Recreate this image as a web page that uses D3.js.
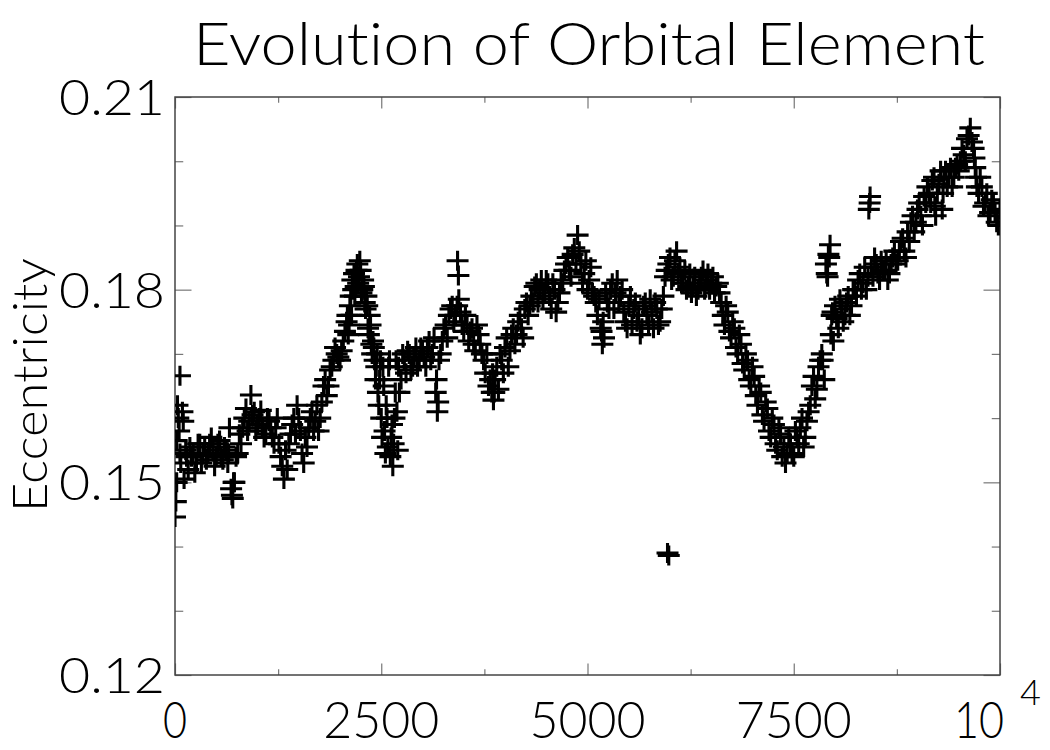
<!DOCTYPE html>
<html lang="en">
<head>
<meta charset="utf-8">
<script src="https://cdn.jsdelivr.net/npm/d3@7/dist/d3.min.js"></script>
<style>
    body { margin: 0; background: #fff; }
    text { font-family: Lato, "DejaVu Sans", sans-serif; font-weight: 300; fill: #000;
           font-variant-ligatures: none; font-feature-settings: "liga" 0; }
</style>
</head>
<body>
<svg width="1050" height="750"></svg>
<script>
// axis ticks
var xTicks = [0, 2500, 5000, 7500, 10000];
var xTickLabels = ["0", "2500", "5000", "7500", "10"];
var xMinorTicks = [1250, 3750, 6250, 8750];
var yTicks = [0.12, 0.15, 0.18, 0.21];
var yTickLabels = ["0.12", "0.15", "0.18", "0.21"];
var yMinorTicks = [0.13, 0.14, 0.16, 0.17, 0.19, 0.20];

// [time, eccentricity], first pass
var samplesA = [
    [0,0.1446],[10,0.1470],[20,0.1500],[30,0.1620],[40,0.1600],[50,0.1580],[60,0.1666],[70,0.1530],
    [90,0.1610],[110,0.1505],[130,0.1550],[160,0.1520],[200,0.1540],[240,0.1515],[280,0.1560],
    [320,0.1530],[360,0.1555],[400,0.1545],[440,0.1570],[480,0.1525],[520,0.1560],[560,0.1540],
    [600,0.1555],[640,0.1530],[660,0.1585],[680,0.1490],[700,0.1475],[720,0.1500],[760,0.1545],
    [800,0.1560],[840,0.1600],[880,0.1580],[920,0.1636],[960,0.1610],[1000,0.1590],[1040,0.1612],
    [1080,0.1570],[1120,0.1600],[1160,0.1585],[1200,0.1560],[1240,0.1600],[1280,0.1540],[1320,0.1505],
    [1360,0.1520],[1400,0.1575],[1440,0.1600],[1480,0.1620],[1520,0.1580],[1560,0.1530],[1600,0.1555],
    [1640,0.1600],[1680,0.1580],[1720,0.1620],[1760,0.1600],[1800,0.1650],[1840,0.1635],[1880,0.1675],
    [1920,0.1690],[1960,0.1700],[2000,0.1690],[2040,0.1720],[2080,0.1750],[2100,0.1730],[2120,0.1775],
    [2140,0.1760],[2160,0.1800],[2180,0.1790],[2200,0.1830],[2220,0.1810],[2240,0.1845],[2260,0.1795],
    [2280,0.1815],[2300,0.1780],[2320,0.1790],[2340,0.1740],[2360,0.1760],[2380,0.1715],[2400,0.1720],
    [2420,0.1690],[2440,0.1680],[2460,0.1640],[2480,0.1660],[2500,0.1600],[2520,0.1680],[2540,0.1580],
    [2560,0.1620],[2580,0.1555],[2600,0.1690],[2620,0.1570],[2640,0.1525],[2660,0.1600],[2680,0.1690],
    [2700,0.1550],[2720,0.1640],[2760,0.1700],[2800,0.1670],[2840,0.1700],[2880,0.1680],[2920,0.1710],
    [2960,0.1690],[3000,0.1705],[3040,0.1680],[3080,0.1720],[3120,0.1700],[3160,0.1640],[3180,0.1610],
    [3200,0.1690],[3240,0.1720],[3280,0.1745],[3320,0.1760],[3360,0.1775],[3400,0.1760],[3425,0.1845],
    [3435,0.1822],[3440,0.1785],[3480,0.1745],[3520,0.1760],[3560,0.1720],[3600,0.1740],[3640,0.1705],
    [3680,0.1730],[3720,0.1700],[3760,0.1670],[3800,0.1650],[3840,0.1640],[3860,0.1628],[3880,0.1660],
    [3920,0.1645],[3960,0.1690],[4000,0.1710],[4040,0.1680],[4080,0.1730],[4120,0.1715],[4160,0.1750],
    [4200,0.1740],[4240,0.1770],[4280,0.1760],[4320,0.1790],[4360,0.1805],[4400,0.1780],[4440,0.1815],
    [4480,0.1795],[4520,0.1810],[4560,0.1770],[4600,0.1800],[4640,0.1780],[4680,0.1815],[4720,0.1830],
    [4760,0.1850],[4800,0.1820],[4840,0.1865],[4880,0.1885],[4920,0.1840],[4960,0.1825],[5000,0.1800],
    [5040,0.1835],[5080,0.1790],[5120,0.1760],[5160,0.1740],[5180,0.1715],[5200,0.1725],[5240,0.1780],
    [5280,0.1800],[5320,0.1770],[5360,0.1815],[5400,0.1790],[5440,0.1765],[5480,0.1740],[5520,0.1790],
    [5560,0.1770],[5600,0.1750],[5640,0.1730],[5680,0.1775],[5720,0.1760],[5760,0.1785],[5800,0.1740],
    [5840,0.1770],[5880,0.1750],[5920,0.1790],[5960,0.1830],[5970,0.1390],[5985,0.1386],[6000,0.1850],
    [6040,0.1820],[6080,0.1860],[6120,0.1835],[6160,0.1810],[6200,0.1800],[6240,0.1825],[6280,0.1805],
    [6320,0.1790],[6360,0.1810],[6400,0.1830],[6440,0.1815],[6480,0.1800],[6520,0.1820],[6560,0.1805],
    [6600,0.1795],[6640,0.1760],[6680,0.1775],[6720,0.1735],[6760,0.1750],[6800,0.1710],[6840,0.1730],
    [6880,0.1685],[6920,0.1700],[6960,0.1660],[7000,0.1680],[7040,0.1635],[7080,0.1650],[7120,0.1605],
    [7160,0.1625],[7200,0.1580],[7240,0.1600],[7280,0.1560],[7320,0.1585],[7360,0.1540],[7400,0.1530],
    [7440,0.1570],[7480,0.1545],[7520,0.1580],[7560,0.1560],[7600,0.1600],[7640,0.1570],[7680,0.1610],
    [7720,0.1650],[7760,0.1630],[7800,0.1680],[7840,0.1700],[7870,0.1660],[7900,0.1825],[7920,0.1855],
    [7940,0.1870],[7960,0.1760],[7980,0.1720],[8000,0.1775],[8040,0.1740],[8080,0.1770],[8120,0.1760],
    [8160,0.1790],[8200,0.1775],[8240,0.1800],[8280,0.1815],[8320,0.1800],[8360,0.1835],[8400,0.1820],
    [8410,0.1925],[8425,0.1945],[8440,0.1835],[8480,0.1850],[8520,0.1825],[8560,0.1845],[8600,0.1830],
    [8640,0.1815],[8680,0.1840],[8720,0.1860],[8760,0.1845],[8800,0.1875],[8840,0.1860],[8880,0.1890],
    [8920,0.1905],[8960,0.1890],[9000,0.1925],[9040,0.1915],[9080,0.1945],[9120,0.1960],[9160,0.1935],
    [9200,0.1975],[9220,0.1915],[9240,0.1950],[9280,0.1985],[9300,0.1925],[9320,0.1975],[9360,0.1960],
    [9400,0.1990],[9440,0.1975],[9480,0.1995],[9520,0.2000],[9560,0.2010],[9600,0.2035],[9640,0.2052],
    [9680,0.2020],[9700,0.1990],[9720,0.1960],[9760,0.1975],[9800,0.1930],[9840,0.1950],[9880,0.1920],
    [9920,0.1935],[9960,0.1905],[10000,0.1925]
];

// second pass, the other side of the scatter band
var samplesB = [
    [20,0.1565],[60,0.1545],[100,0.1595],[140,0.1540],[180,0.1555],[220,0.1545],[260,0.1530],
    [300,0.1560],[340,0.1545],[380,0.1535],[420,0.1560],[460,0.1550],[500,0.1540],[540,0.1565],
    [580,0.1535],[620,0.1550],[650,0.1545],[690,0.1480],[710,0.1500],[740,0.1540],[780,0.1575],
    [820,0.1585],[860,0.1615],[900,0.1595],[940,0.1605],[980,0.1580],[1020,0.1600],[1060,0.1585],
    [1100,0.1575],[1140,0.1595],[1180,0.1570],[1220,0.1585],[1260,0.1560],[1300,0.1525],[1340,0.1550],
    [1380,0.1560],[1420,0.1590],[1460,0.1575],[1500,0.1600],[1540,0.1545],[1580,0.1570],[1620,0.1585],
    [1660,0.1610],[1700,0.1595],[1740,0.1580],[1780,0.1625],[1820,0.1660],[1860,0.1650],[1900,0.1680],
    [1940,0.1710],[1980,0.1695],[2020,0.1705],[2060,0.1735],[2090,0.1760],[2110,0.1745],[2130,0.1790],
    [2150,0.1815],[2170,0.1825],[2190,0.1805],[2210,0.1840],[2230,0.1820],[2250,0.1830],[2270,0.1800],
    [2290,0.1805],[2310,0.1770],[2330,0.1775],[2350,0.1730],[2370,0.1745],[2390,0.1700],[2410,0.1710],
    [2430,0.1660],[2450,0.1700],[2470,0.1620],[2490,0.1690],[2510,0.1570],[2530,0.1650],[2550,0.1545],
    [2570,0.1600],[2590,0.1680],[2610,0.1540],[2630,0.1590],[2650,0.1560],[2670,0.1640],[2690,0.1610],
    [2710,0.1680],[2740,0.1660],[2780,0.1690],[2820,0.1705],[2860,0.1675],[2900,0.1695],[2940,0.1680],
    [2980,0.1710],[3020,0.1695],[3060,0.1710],[3100,0.1690],[3140,0.1725],[3170,0.1660],[3190,0.1625],
    [3220,0.1700],[3260,0.1740],[3300,0.1725],[3340,0.1770],[3380,0.1750],[3420,0.1775],[3460,0.1765],
    [3500,0.1735],[3540,0.1745],[3580,0.1735],[3620,0.1715],[3660,0.1745],[3700,0.1715],[3740,0.1690],
    [3780,0.1700],[3820,0.1660],[3850,0.1670],[3870,0.1640],[3900,0.1680],[3940,0.1700],[3980,0.1670],
    [4020,0.1725],[4060,0.1705],[4100,0.1740],[4140,0.1730],[4180,0.1760],[4220,0.1725],[4260,0.1780],
    [4300,0.1775],[4340,0.1780],[4380,0.1810],[4420,0.1800],[4460,0.1785],[4500,0.1815],[4540,0.1790],
    [4580,0.1810],[4620,0.1765],[4660,0.1795],[4700,0.1810],[4740,0.1840],[4780,0.1830],[4820,0.1855],
    [4860,0.1840],[4900,0.1860],[4940,0.1810],[4980,0.1845],[5020,0.1815],[5060,0.1795],[5100,0.1780],
    [5140,0.1785],[5170,0.1735],[5190,0.1750],[5220,0.1795],[5260,0.1770],[5300,0.1810],[5340,0.1795],
    [5380,0.1780],[5420,0.1800],[5460,0.1750],[5500,0.1775],[5540,0.1745],[5580,0.1780],[5620,0.1760],
    [5660,0.1740],[5700,0.1780],[5740,0.1745],[5780,0.1765],[5820,0.1780],[5860,0.1745],[5900,0.1770],
    [5940,0.1820],[5980,0.1840],[6020,0.1815],[6060,0.1845],[6100,0.1825],[6140,0.1810],[6180,0.1830],
    [6220,0.1805],[6260,0.1795],[6300,0.1820],[6340,0.1800],[6380,0.1820],[6420,0.1800],[6460,0.1825],
    [6500,0.1810],[6540,0.1795],[6580,0.1810],[6620,0.1780],[6660,0.1745],[6700,0.1765],[6740,0.1725],
    [6780,0.1740],[6820,0.1700],[6860,0.1715],[6900,0.1675],[6940,0.1690],[6980,0.1650],[7020,0.1665],
    [7060,0.1620],[7100,0.1640],[7140,0.1595],[7180,0.1615],[7220,0.1570],[7260,0.1590],[7300,0.1550],
    [7340,0.1575],[7380,0.1555],[7420,0.1545],[7460,0.1560],[7500,0.1540],[7540,0.1570],[7580,0.1585],
    [7620,0.1555],[7660,0.1595],[7700,0.1620],[7740,0.1665],[7780,0.1645],[7820,0.1690],[7850,0.1690],
    [7890,0.1840],[7910,0.1820],[7930,0.1850],[7950,0.1730],[7970,0.1765],[8020,0.1755],[8060,0.1785],
    [8100,0.1750],[8140,0.1780],[8180,0.1760],[8220,0.1800],[8260,0.1790],[8300,0.1825],[8340,0.1810],
    [8380,0.1800],[8420,0.1935],[8460,0.1820],[8500,0.1840],[8540,0.1815],[8580,0.1830],[8620,0.1845],
    [8660,0.1825],[8700,0.1850],[8740,0.1840],[8780,0.1860],[8820,0.1880],[8860,0.1850],[8900,0.1875],
    [8940,0.1915],[8980,0.1905],[9020,0.1935],[9060,0.1900],[9100,0.1935],[9140,0.1950],[9180,0.1970],
    [9210,0.1930],[9260,0.1965],[9310,0.1950],[9340,0.1985],[9380,0.1975],[9420,0.1960],[9460,0.1990],
    [9500,0.1985],[9540,0.2020],[9580,0.2000],[9620,0.2040],[9660,0.2030],[9690,0.2005],[9710,0.1975],
    [9740,0.1950],[9780,0.1960],[9820,0.1935],[9860,0.1915],[9900,0.1940],[9940,0.1920],[9980,0.1900]
];

var samples = samplesA.concat(samplesB);

var svg = d3.select("svg"),
    margin = { top: 97, right: 50, bottom: 75, left: 175 },
    width = +svg.attr("width") - margin.left - margin.right,
    height = +svg.attr("height") - margin.top - margin.bottom;

var x = d3.scaleLinear().domain([0, 10000]).range([margin.left, margin.left + width]),
    y = d3.scaleLinear().domain([0.12, 0.21]).range([margin.top + height, margin.top]);

svg.append("defs").append("clipPath").attr("id", "plot")
    .append("rect")
    .attr("x", margin.left).attr("y", margin.top)
    .attr("width", width).attr("height", height);

// tick marks on all four sides, pointing inward
function ticks(axis, values, size, transform) {
    svg.append("g")
        .attr("transform", transform)
        .call(axis.tickValues(values).tickSize(-size).tickFormat(""))
        .call(function(g) {
            g.select(".domain").remove();
            g.selectAll("line").attr("stroke", "#777").attr("stroke-width", 1.2);
        });
}
var majX = height * 0.02, majY = width * 0.02;
ticks(d3.axisBottom(x), xTicks, majX, "translate(0," + (margin.top + height) + ")");
ticks(d3.axisBottom(x), xMinorTicks, majX / 2, "translate(0," + (margin.top + height) + ")");
ticks(d3.axisTop(x), xTicks, majX, "translate(0," + margin.top + ")");
ticks(d3.axisTop(x), xMinorTicks, majX / 2, "translate(0," + margin.top + ")");
ticks(d3.axisLeft(y), yTicks, majY, "translate(" + margin.left + ",0)");
ticks(d3.axisLeft(y), yMinorTicks, majY / 2, "translate(" + margin.left + ",0)");
ticks(d3.axisRight(y), yTicks, majY, "translate(" + (margin.left + width) + ",0)");
ticks(d3.axisRight(y), yMinorTicks, majY / 2, "translate(" + (margin.left + width) + ",0)");

svg.append("rect")
    .attr("x", margin.left).attr("y", margin.top)
    .attr("width", width).attr("height", height)
    .attr("fill", "none").attr("stroke", "#444").attr("stroke-width", 1.5);

// plus markers
svg.append("g")
    .attr("clip-path", "url(#plot)")
    .selectAll("path")
    .data(samples)
    .enter().append("path")
    .attr("transform", function(d) { return "translate(" + x(d[0]) + "," + y(d[1]) + ")"; })
    .attr("d", "M-11,0H11M0,-10V10")
    .attr("stroke", "#000")
    .attr("stroke-width", 3.1)
    .attr("fill", "none");

// tick labels
svg.selectAll(".ylab")
    .data(yTicks)
    .enter().append("text")
    .attr("class", "ylab")
    .attr("x", 165)
    .attr("y", function(d) { return y(d) + 18; })
    .attr("text-anchor", "end")
    .attr("font-size", 50)
    .attr("textLength", 106)
    .attr("lengthAdjust", "spacingAndGlyphs")
    .text(function(d, i) { return yTickLabels[i]; });

var xLabWidth = [24, 116, 116, 116, 50];
svg.selectAll(".xlab")
    .data(xTicks)
    .enter().append("text")
    .attr("class", "xlab")
    .attr("x", function(d, i) { return i == 4 ? x(d) - 21 : x(d); })
    .attr("y", 738)
    .attr("text-anchor", "middle")
    .attr("font-size", 52)
    .attr("textLength", function(d, i) { return xLabWidth[i]; })
    .attr("lengthAdjust", "spacingAndGlyphs")
    .text(function(d, i) { return xTickLabels[i]; });

svg.append("text")
    .attr("x", 1020)
    .attr("y", 705)
    .attr("font-size", 36)
    .text("4");

svg.append("text")
    .attr("x", 193)
    .attr("y", 65)
    .attr("font-size", 60)
    .attr("textLength", 792)
    .attr("lengthAdjust", "spacingAndGlyphs")
    .text("Evolution of Orbital Element");

svg.append("text")
    .attr("transform", "translate(47,385) rotate(-90)")
    .attr("text-anchor", "middle")
    .attr("font-size", 48)
    .attr("textLength", 254)
    .attr("lengthAdjust", "spacingAndGlyphs")
    .text("Eccentricity");
</script>
</body>
</html>
